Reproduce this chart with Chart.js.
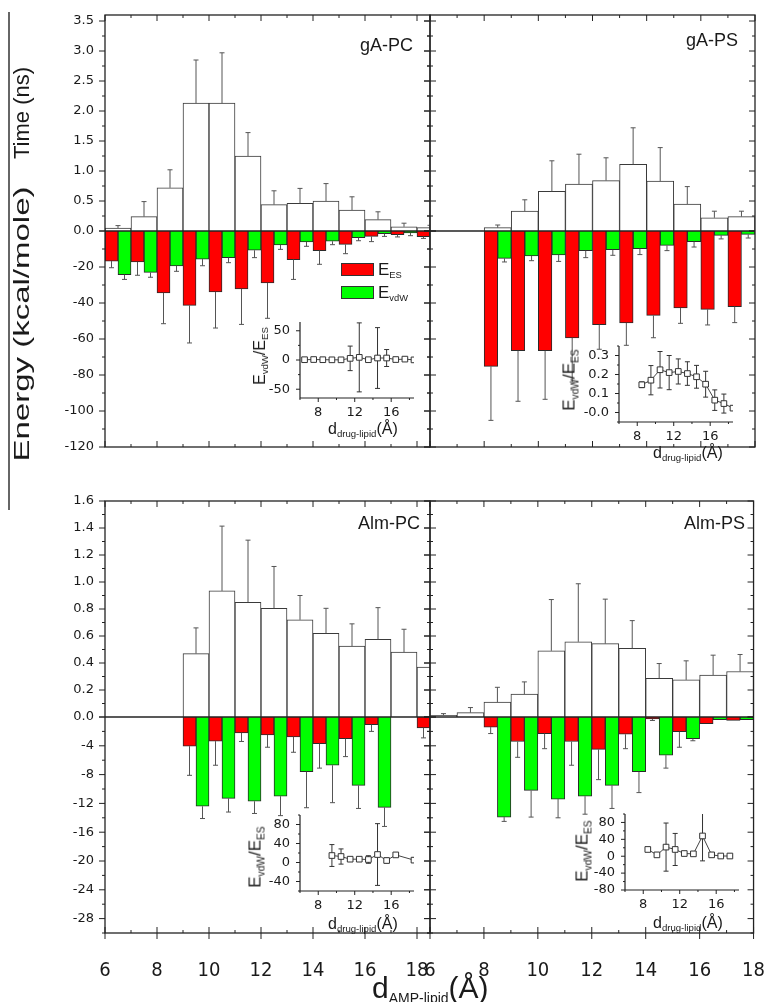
<!DOCTYPE html>
<html>
<head>
<meta charset="utf-8">
<script src="https://cdn.jsdelivr.net/npm/chart.js@4.4.0/dist/chart.umd.min.js"></script>
<style>
  html, body { margin: 0; padding: 0; background: #fff; overflow: hidden; }
  #page { position: relative; width: 766px; height: 1002px; font-family: "Liberation Sans", Arial, sans-serif; color: #1a1a1a; }
  canvas { position: absolute; }
  .txt { position: absolute; white-space: nowrap; line-height: 1; }
  .rot { position: absolute; white-space: nowrap; line-height: 1; transform: translate(-50%, -50%) rotate(-90deg); }
  sub { font-size: 0.6em; vertical-align: -0.35em; line-height: 0; }
  .sw { position: absolute; width: 31px; height: 11px; border: 1px solid #333; }
</style>
</head>
<body>
<div id="page">
  <canvas id="pTL" width="410" height="475" style="left:30px;top:5px"></canvas>
  <canvas id="pTR" width="348" height="475" style="left:418px;top:5px"></canvas>
  <canvas id="pBL" width="410" height="511" style="left:30px;top:491px"></canvas>
  <canvas id="pBR" width="348" height="511" style="left:418px;top:491px"></canvas>

  <canvas id="iTL" width="164" height="114" style="left:258px;top:312px"></canvas>
  <canvas id="iTR" width="164" height="114" style="left:577px;top:336px"></canvas>
  <canvas id="iBL" width="164" height="114" style="left:258px;top:805px"></canvas>
  <canvas id="iBR" width="164" height="114" style="left:583px;top:804px"></canvas>

  <div style="position:absolute;left:8px;top:12px;width:1.5px;height:498px;background:#666"></div>
  <div class="rot" style="left:22px;top:113px;font-size:22px">Time (ns)</div>
  <div class="rot" style="left:22px;top:324px;font-size:22px;transform:translate(-50%,-50%) rotate(-90deg) scaleX(1.5)">Energy (kcal/mole)</div>

  <div class="txt" style="right:353px;top:36px;font-size:18px">gA-PC</div>
  <div class="txt" style="right:28px;top:31px;font-size:18px">gA-PS</div>
  <div class="txt" style="right:346px;top:514px;font-size:18px">Alm-PC</div>
  <div class="txt" style="right:21px;top:514px;font-size:18px">Alm-PS</div>

  <div class="sw" style="left:341px;top:263px;background:#ff0000"></div>
  <div class="txt" style="left:378px;top:261px;font-size:17px">E<sub style="font-size:0.55em">ES</sub></div>
  <div class="sw" style="left:341px;top:286px;background:#00ff00"></div>
  <div class="txt" style="left:378px;top:284px;font-size:17px">E<sub style="font-size:0.55em">vdW</sub></div>

  <div class="rot" style="left:260px;top:356px;font-size:16px">E<sub>vdW</sub>/E<sub>ES</sub></div>
  <div class="rot" style="left:569px;top:380px;font-size:17px">E<sub>vdW</sub>/E<sub>ES</sub></div>
  <div class="rot" style="left:255px;top:857px;font-size:17px">E<sub>vdW</sub>/E<sub>ES</sub></div>
  <div class="rot" style="left:582px;top:851px;font-size:17px">E<sub>vdW</sub>/E<sub>ES</sub></div>

  <div class="txt" style="left:328px;top:421px;font-size:16px">d<sub>drug-lipid</sub>(Å)</div>
  <div class="txt" style="left:653px;top:445px;font-size:16px">d<sub>drug-lipid</sub>(Å)</div>
  <div class="txt" style="left:328px;top:916px;font-size:16px">d<sub>drug-lipid</sub>(Å)</div>
  <div class="txt" style="left:653px;top:915px;font-size:16px">d<sub>drug-lipid</sub>(Å)</div>

  <div class="txt" style="left:372px;top:973px;font-size:30px">d<sub style="font-size:14px">AMP-lipid</sub>(Å)</div>
</div>
<script>
// bin centres (Å), each bin is 1 Å wide
const bins = [6.5, 7.5, 8.5, 9.5, 10.5, 11.5, 12.5, 13.5, 14.5, 15.5, 16.5, 17.5, 18.5];

// gA-PC
const gaPcTime    = [0.05, 0.24, 0.72, 2.13, 2.13, 1.25, 0.44, 0.46, 0.50, 0.35, 0.19, 0.07, 0.055];
const gaPcTimeErr = [0.04, 0.25, 0.30, 0.72, 0.84, 0.39, 0.23, 0.25, 0.29, 0.22, 0.13, 0.06, 0.04];
const gaPcEs      = [-16.7, -17.2, -34.4, -41.3, -33.9, -32.2, -28.9, -15.9, -10.9, -7.4, -3.0, -2.0, -3.1];
const gaPcEsErr   = [3.7, 7.4, 17.1, 20.9, 20.0, 19.7, 19.6, 11.0, 7.6, 5.2, 2.9, 1.3, 1.0];
const gaPcVdw     = [-24.3, -23.0, -19.4, -15.6, -14.8, -10.7, -7.8, -6.1, -5.7, -3.7, -1.5, -1.1, -1.0];
const gaPcVdwErr  = [2.6, 2.7, 3.0, 3.7, 2.8, 4.1, 2.4, 2.4, 1.9, 1.7, 1.5, 1.5, 0.5];
const gaPcRatio    = [0.5, 0.8, 0.5, 0.3, 0.3, 2.8, 4.5, 0.5, 3.4, 3.4, 0.8, 1.5, 0.2];
const gaPcRatioErr = [3, 3, 2, 1, 1, 21, 59, 1, 52, 14.5, 2, 2, 1];

// gA-PS
const gaPsTime    = [null, null, 0.055, 0.33, 0.66, 0.78, 0.84, 1.11, 0.83, 0.45, 0.22, 0.24, null];
const gaPsTimeErr = [0, 0, 0.045, 0.19, 0.51, 0.50, 0.38, 0.61, 0.56, 0.29, 0.11, 0.09, 0];
const gaPsEs      = [null, null, -75.2, -66.5, -66.5, -59.4, -52.0, -51.1, -46.9, -42.8, -43.5, -42.0, null];
const gaPsEsErr   = [0, 0, 30, 28.1, 27, 24.5, 13.7, 12.4, 12.4, 8.5, 8.7, 8.9, 0];
const gaPsVdw     = [null, null, -15.2, -13.9, -13.3, -10.9, -10.4, -9.8, -8.0, -5.9, -2.4, -1.9, null];
const gaPsVdwErr  = [0, 0, 2.0, 2.6, 3.6, 3.9, 3.1, 3.3, 2.9, 3.0, 2.0, 2.0, 0];
const gaPsRatio    = [null, null, 0.146, 0.17, 0.225, 0.21, 0.216, 0.205, 0.188, 0.149, 0.065, 0.047, 0.023];
const gaPsRatioErr = [0, 0, 0.015, 0.077, 0.096, 0.09, 0.066, 0.062, 0.06, 0.068, 0.054, 0.05, 0.01];

// Alm-PC
const almPcTime    = [null, null, null, 0.47, 0.934, 0.85, 0.805, 0.72, 0.62, 0.525, 0.575, 0.48, 0.37];
const almPcTimeErr = [0, 0, 0, 0.19, 0.48, 0.46, 0.31, 0.18, 0.185, 0.165, 0.235, 0.17, 0];
const almPcEs      = [null, null, null, -4.05, -3.35, -2.2, -2.5, -2.75, -3.7, -3.0, -1.07, null, -1.5];
const almPcEsErr   = [0, 0, 0, 4.05, 3.35, 1.2, 1.7, 2.15, 3.4, 2.5, 0.93, 0, 1.4];
const almPcVdw     = [null, null, null, -12.4, -11.3, -11.7, -11.0, -7.6, -6.7, -9.5, -12.56, null, null];
const almPcVdwErr  = [0, 0, 0, 1.7, 1.9, 1.7, 2.7, 5.0, 5.2, 3.2, 2.64, 0, 0];
const almPcRatio    = [null, null, null, 14.7, 12.6, 7, 7, 6.3, 16.8, 4.2, 16, null, 5];
const almPcRatioErr = [0, 0, 0, 23, 16, 2, 2, 8, 65, 5, 3, 0, 5];

// Alm-PS
const almPsTime    = [0.012, 0.032, 0.11, 0.17, 0.49, 0.557, 0.543, 0.508, 0.287, 0.275, 0.31, 0.337, null];
const almPsTimeErr = [0.013, 0.038, 0.11, 0.09, 0.38, 0.43, 0.33, 0.206, 0.109, 0.141, 0.148, 0.126, 0];
const almPsEs      = [null, null, -1.4, -3.4, -2.3, -3.4, -4.5, -2.4, -0.28, -2.05, -0.93, -0.47, null];
const almPsEsErr   = [0, 0, 0.9, 2.2, 2.1, 3.3, 4.2, 2.0, 0.2, 2.15, 0, 0, 0];
const almPsVdw     = [null, null, -13.9, -10.2, -11.4, -11.0, -9.5, -7.6, -5.3, -3.0, -0.37, -0.37, null];
const almPsVdwErr  = [0, 0, 0.6, 3.7, 2.6, 2.5, 3.2, 2.9, 1.8, 0.3, 0, 0, 0];
const almPsRatio    = [null, null, 16, 3.2, 21.6, 16, 6.4, 5.6, 48, 3.2, 0.5, 0.5, null];
const almPsRatioErr = [0, 0, 5, 4, 57, 38, 2, 4, 59, 5, 1, 1, 0];

const INK = '#1a1a1a';
const YFONT = { family: 'DejaVu Sans', size: 13 };
const XFONT = { family: '"Liberation Sans Narrow", "DejaVu Sans Condensed", "Liberation Sans"', size: 20 };

function keepEvery(step) {
  return function (scale) {
    scale.ticks = scale.ticks.filter(function (t) {
      const k = t.value / step;
      return Math.abs(k - Math.round(k)) < 1e-6;
    });
  };
}

function tickVals(scale, minorStep) {
  const majors = scale.ticks.map(t => t.value);
  const minors = [];
  if (minorStep && majors.length) {
    const m0 = majors[0];
    const n0 = Math.ceil((scale.min - m0) / minorStep - 1e-9);
    const n1 = Math.floor((scale.max - m0) / minorStep + 1e-9);
    for (let k = n0; k <= n1; k++) {
      const v = m0 + k * minorStep;
      if (!majors.some(m => Math.abs(m - v) < 1e-9)) minors.push(v);
    }
  }
  return { majors, minors };
}

// tick marks along one side of the plot box; mode is 'in', 'out' or 'cross'
function drawSide(ctx, scale, side, at, minorStep, majMode, minMode, majLen, minLen) {
  const tv = tickVals(scale, minorStep);
  const out = (side === 'left' || side === 'top') ? -1 : 1;
  const seg = (v, mode, len) => {
    const p = scale.getPixelForValue(v);
    let a = 0, b = 0;
    if (mode !== 'in') b = out * len;
    if (mode !== 'out') a = -out * len;
    if (side === 'left' || side === 'right') { ctx.moveTo(at + a, p); ctx.lineTo(at + b, p); }
    else { ctx.moveTo(p, at + a); ctx.lineTo(p, at + b); }
  };
  ctx.beginPath();
  tv.majors.forEach(v => seg(v, majMode, majLen));
  tv.minors.forEach(v => seg(v, minMode, minLen));
  ctx.stroke();
}

const frame = {
  id: 'frame',
  afterDatasetsDraw(chart, args, o) {
    const { ctx, chartArea: a, scales } = chart;
    ctx.save();
    ctx.strokeStyle = '#222';
    ctx.lineWidth = 1.3;
    ctx.strokeRect(a.left, a.top, a.right - a.left, a.bottom - a.top);
    const z = scales.yT.getPixelForValue(0);
    ctx.beginPath(); ctx.moveTo(a.left, z); ctx.lineTo(a.right, z); ctx.stroke();
    ctx.lineWidth = 1;
    drawSide(ctx, scales.yT, 'left', a.left, o.minorT, o.leftMode, o.leftMode, 6, 3);
    drawSide(ctx, scales.yE, 'left', a.left, o.minorE, o.leftMode, o.leftMode, 6, 3);
    drawSide(ctx, scales.yT, 'right', a.right, o.minorT, 'in', 'in', 6, 3);
    drawSide(ctx, scales.yE, 'right', a.right, o.minorE, 'in', 'in', 6, 3);
    drawSide(ctx, scales.x, 'top', a.top, 1, 'in', 'in', 6, 3);
    drawSide(ctx, scales.x, 'bottom', a.bottom, 1, o.bottomMaj, 'in', 6, 3);
    ctx.restore();
  }
};

const insetAxes = {
  id: 'insetAxes',
  afterDatasetsDraw(chart, args, o) {
    const { ctx, chartArea: a, scales } = chart;
    ctx.save();
    ctx.strokeStyle = '#222';
    ctx.lineWidth = 1.2;
    ctx.beginPath();
    ctx.moveTo(a.left, a.top); ctx.lineTo(a.left, a.bottom); ctx.lineTo(a.right, a.bottom);
    ctx.stroke();
    ctx.lineWidth = 1;
    drawSide(ctx, scales.y, 'left', a.left, o.minorY, 'out', 'out', 4, 2);
    drawSide(ctx, scales.x, 'bottom', a.bottom, 2, 'out', 'out', 4, 2);
    ctx.restore();
  }
};

function drawErrors(chart, color) {
  const ctx = chart.ctx, a = chart.chartArea;
  ctx.save();
  ctx.beginPath(); ctx.rect(a.left, a.top, a.right - a.left, a.bottom - a.top); ctx.clip();
  ctx.strokeStyle = color;
  ctx.lineWidth = 1;
  chart.data.datasets.forEach((ds, i) => {
    if (!ds.errs) return;
    const meta = chart.getDatasetMeta(i);
    const vs = chart.scales[meta.yAxisID];
    meta.data.forEach((el, j) => {
      const v = ds.data[j], e = ds.errs[j];
      if (v === null || v === undefined || !e) return;
      const ends = ds.errDir === 0 ? [v - e, v + e] : [v + ds.errDir * e];
      const y0 = vs.getPixelForValue(v);
      ctx.beginPath();
      ends.forEach(end => {
        const y1 = vs.getPixelForValue(end);
        ctx.moveTo(el.x, y0); ctx.lineTo(el.x, y1);
        ctx.moveTo(el.x - 2.5, y1); ctx.lineTo(el.x + 2.5, y1);
      });
      ctx.stroke();
    });
  });
  ctx.restore();
}

const errorsOnTop = { id: 'errorsOnTop', afterDatasetsDraw(chart) { drawErrors(chart, '#555'); } };
const errorsBelow = { id: 'errorsBelow', beforeDatasetsDraw(chart) { drawErrors(chart, '#333'); } };

function makePanel(id, p) {
  new Chart(document.getElementById(id), {
    type: 'bar',
    data: {
      labels: bins,
      datasets: [
        { data: p.time, errs: p.timeErr, errDir: 1, yAxisID: 'yT', grouped: false,
          backgroundColor: '#ffffff', borderColor: '#3a3a3a', borderWidth: 1, clip: 0 },
        { data: p.es, errs: p.esErr, errDir: -1, yAxisID: 'yE',
          backgroundColor: '#ff0000', borderColor: '#2a2a2a', borderWidth: 1, clip: 0 },
        { data: p.vdw, errs: p.vdwErr, errDir: -1, yAxisID: 'yE',
          backgroundColor: '#00ff00', borderColor: '#2a2a2a', borderWidth: 1, clip: 0 }
      ]
    },
    options: {
      responsive: false,
      animation: false,
      devicePixelRatio: 1,
      layout: { padding: { top: 10, right: p.padRight, bottom: 0, left: 0 } },
      datasets: { bar: { categoryPercentage: 1, barPercentage: 1 } },
      plugins: {
        legend: { display: false },
        tooltip: { enabled: false },
        frame: { minorT: p.tStep / 2, minorE: p.eStep / 2, leftMode: p.leftMode, bottomMaj: p.bottomMaj }
      },
      scales: {
        x: {
          type: 'linear', min: 6, max: p.xMax, offset: false,
          grid: { display: false, drawTicks: true, tickLength: 25 },
          border: { display: false },
          ticks: { display: p.xLabels, stepSize: 2, includeBounds: false, autoSkip: false, maxRotation: 0,
                   padding: 1, color: INK, font: XFONT },
          afterBuildTicks: keepEvery(2),
          afterFit: s => { s.height = p.xH; }
        },
        yT: {
          type: 'linear', position: 'left', stack: 'panel', stackWeight: 1, weight: 2,
          min: 0, max: p.tMax,
          grid: { display: false, drawTicks: true, tickLength: 9 },
          border: { display: false },
          ticks: { display: p.yLabels, stepSize: p.tStep, includeBounds: false, autoSkip: false, padding: 2,
                   color: INK, font: YFONT, callback: v => v.toFixed(1) },
          afterBuildTicks: keepEvery(p.tStep),
          afterFit: s => { s.width = p.yW; }
        },
        yE: {
          type: 'linear', position: 'left', stack: 'panel', stackWeight: 1, weight: 1,
          min: p.eMin, max: 0,
          grid: { display: false, drawTicks: true, tickLength: 9 },
          border: { display: false },
          ticks: { display: p.yLabels, stepSize: p.eStep, includeBounds: false, autoSkip: false, padding: 2,
                   color: INK, font: YFONT, callback: v => (v === 0 ? '' : String(v)) },
          afterBuildTicks: keepEvery(p.eStep),
          afterFit: s => { s.width = p.yW; }
        }
      }
    },
    plugins: [frame, errorsOnTop]
  });
}

function makeInset(id, values, errs, y) {
  new Chart(document.getElementById(id), {
    type: 'line',
    data: {
      labels: bins,
      datasets: [{
        data: values, errs: errs, errDir: 0, yAxisID: 'y',
        spanGaps: true, tension: 0, clip: 0,
        borderColor: '#444', borderWidth: 1,
        pointStyle: 'rect', pointRadius: 4, pointBackgroundColor: '#ffffff',
        pointBorderColor: '#333', pointBorderWidth: 1
      }]
    },
    options: {
      responsive: false,
      animation: false,
      devicePixelRatio: 1,
      layout: { autoPadding: false, padding: { top: 10, right: 8, bottom: 0, left: 0 } },
      plugins: { legend: { display: false }, tooltip: { enabled: false }, insetAxes: { minorY: y.step / 2 } },
      scales: {
        x: {
          type: 'linear', min: 6, max: 18.5, offset: false,
          grid: { display: false, drawTicks: true, tickLength: 6 },
          border: { display: false },
          ticks: { stepSize: 2, includeBounds: false, autoSkip: false, maxRotation: 0, padding: 1,
                   color: INK, font: YFONT },
          afterBuildTicks: keepEvery(4),
          afterFit: s => { s.height = 28; }
        },
        y: {
          type: 'linear', min: y.min, max: y.max,
          grid: { display: false, drawTicks: true, tickLength: 8 },
          border: { display: false },
          ticks: { stepSize: y.step / 2, includeBounds: false, autoSkip: false, padding: 2, color: INK, font: YFONT,
                   callback: v => (y.fixed ? v.toFixed(1) : String(v)) },
          afterBuildTicks: keepEvery(y.step),
          afterFit: s => { s.width = 42; }
        }
      }
    },
    plugins: [errorsBelow, insetAxes]
  });
}

const topRow = { tMax: 3.6, tStep: 0.5, eMin: -120, eStep: 20, xH: 33, xLabels: false, bottomMaj: 'in' };
const botRow = { tMax: 1.6, tStep: 0.2, eMin: -30, eStep: 4, xH: 69, xLabels: true, bottomMaj: 'cross' };
const leftCol = { xMax: 18.5, yW: 75, padRight: 10, yLabels: true, leftMode: 'out' };
const rightCol = { xMax: 18, yW: 12, padRight: 11, yLabels: false, leftMode: 'cross' };

makePanel('pTL', Object.assign({}, topRow, leftCol, {
  time: gaPcTime, timeErr: gaPcTimeErr, es: gaPcEs, esErr: gaPcEsErr, vdw: gaPcVdw, vdwErr: gaPcVdwErr }));
makePanel('pTR', Object.assign({}, topRow, rightCol, {
  time: gaPsTime, timeErr: gaPsTimeErr, es: gaPsEs, esErr: gaPsEsErr, vdw: gaPsVdw, vdwErr: gaPsVdwErr }));
makePanel('pBL', Object.assign({}, botRow, leftCol, {
  time: almPcTime, timeErr: almPcTimeErr, es: almPcEs, esErr: almPcEsErr, vdw: almPcVdw, vdwErr: almPcVdwErr }));
makePanel('pBR', Object.assign({}, botRow, rightCol, {
  time: almPsTime, timeErr: almPsTimeErr, es: almPsEs, esErr: almPsEsErr, vdw: almPsVdw, vdwErr: almPsVdwErr }));

makeInset('iTL', gaPcRatio, gaPcRatioErr, { min: -65, max: 65, step: 50 });
makeInset('iTR', gaPsRatio, gaPsRatioErr, { min: -0.05, max: 0.35, step: 0.1, fixed: true });
makeInset('iBL', almPcRatio, almPcRatioErr, { min: -60, max: 100, step: 40 });
makeInset('iBR', almPsRatio, almPsRatioErr, { min: -80, max: 100, step: 40 });
</script>
</body>
</html>
